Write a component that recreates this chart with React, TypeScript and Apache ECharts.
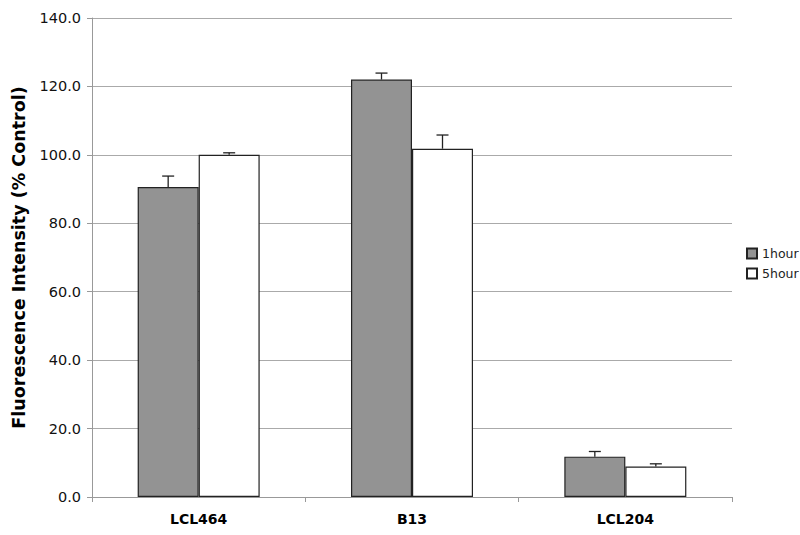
import React, { useEffect, useRef } from "react";
import * as echarts from "echarts";

const categories = ["LCL464", "B13", "LCL204"];
const seriesNames = ["1hour", "5hour"];
const hour1 = [90.6, 122.0, 11.8];
const hour1Err = [3.2, 1.9, 1.5];
const hour5 = [100.0, 101.8, 8.9];
const hour5Err = [0.6, 4.0, 0.8];
const yTicks = [0, 20, 40, 60, 80, 100, 120, 140];

const BAR_W = 61;

function errSeries(vals: number[], errs: number[], offset: number) {
  return {
    type: "custom",
    silent: true,
    z: 5,
    data: vals.map((v, i) => [i, v, v + errs[i]]),
    renderItem: (params: any, api: any) => {
      const lo = api.coord([api.value(0), api.value(1)]);
      const hi = api.coord([api.value(0), api.value(2)]);
      const x = lo[0] + offset;
      const cap = 6;
      const st = { stroke: "#222", lineWidth: 1.3 };
      return {
        type: "group",
        children: [
          { type: "line", shape: { x1: x, y1: lo[1], x2: x, y2: hi[1] }, style: st },
          { type: "line", shape: { x1: x - cap, y1: hi[1], x2: x + cap, y2: hi[1] }, style: st },
        ],
      };
    },
  };
}

export default function App() {
  const ref = useRef<HTMLDivElement>(null);
  useEffect(() => {
    const chart = echarts.init(ref.current!, null, { renderer: "svg" });
    chart.setOption({
      animation: false,
      backgroundColor: "#fff",
      textStyle: { fontFamily: "DejaVu Sans" },
      grid: { left: 92, right: 68, top: 18, bottom: 38 },
      legend: {
        data: seriesNames,
        orient: "vertical",
        left: 741,
        top: 242,
        itemWidth: 10,
        itemHeight: 10,
        itemGap: 7,
        icon: "rect",
        textStyle: { fontFamily: "DejaVu Sans", fontSize: 12.5, color: "#222" },
      },
      xAxis: {
        type: "category",
        data: categories,
        axisLine: { lineStyle: { color: "#999", width: 1 } },
        axisTick: { show: true, alignWithLabel: false, length: 5, lineStyle: { color: "#999" } },
        axisLabel: {
          fontFamily: "DejaVu Sans",
          fontWeight: "bold",
          fontSize: 14,
          color: "#000",
          margin: 15,
        },
      },
      yAxis: {
        type: "value",
        min: 0,
        max: yTicks[yTicks.length - 1],
        interval: 20,
        name: "Fluorescence Intensity (% Control)",
        nameLocation: "middle",
        nameGap: 64,
        nameTextStyle: { fontFamily: "DejaVu Sans", fontWeight: "bold", fontSize: 17.5, color: "#000" },
        axisLine: { show: true, lineStyle: { color: "#999", width: 1 } },
        axisTick: { show: true, length: 5, lineStyle: { color: "#999" } },
        axisLabel: {
          fontFamily: "DejaVu Sans",
          fontSize: 14.5,
          color: "#111",
          margin: 11,
          formatter: (v: number) => v.toFixed(1),
        },
        splitLine: { lineStyle: { color: "#aaa", width: 1 } },
      },
      series: [
        {
          name: seriesNames[0],
          type: "bar",
          data: hour1,
          barWidth: BAR_W,
          barGap: "0%",
          itemStyle: { color: "#939393", borderColor: "#222", borderWidth: 1.2 },
        },
        {
          name: seriesNames[1],
          type: "bar",
          data: hour5,
          barWidth: BAR_W,
          barGap: "0%",
          itemStyle: { color: "#ffffff", borderColor: "#222", borderWidth: 1.2 },
        },
        errSeries(hour1, hour1Err, -BAR_W / 2),
        errSeries(hour5, hour5Err, BAR_W / 2),
      ],
    });
    return () => chart.dispose();
  }, []);
  return (
    <div
      ref={ref}
      style={{ position: "absolute", left: 0, top: 0, width: 800, height: 535 }}
    />
  );
}
